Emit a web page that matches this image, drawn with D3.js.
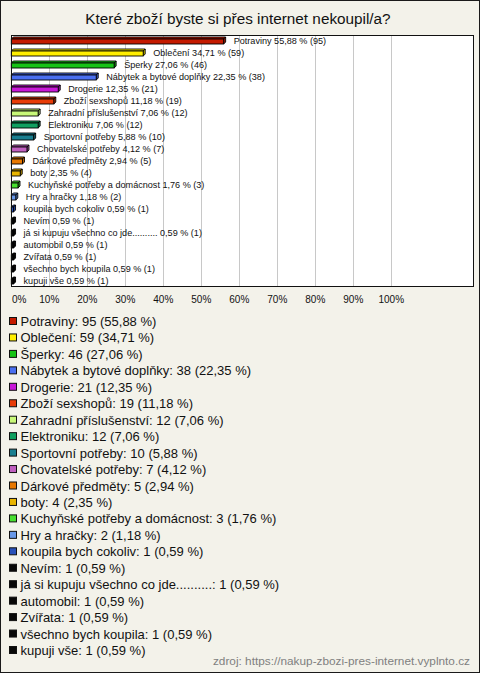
<!DOCTYPE html>
<html><head><meta charset="utf-8">
<script src="https://cdn.jsdelivr.net/npm/d3@7"></script>
<style>body{margin:0;padding:0;background:#fff}svg{display:block}</style>
</head><body>
<script>
const title = "Které zboží byste si přes internet nekoupil/a?";
const categories = ["Potraviny","Oblečení","Šperky","Nábytek a bytové doplňky","Drogerie","Zboží sexshopů","Zahradní příslušenství","Elektroniku","Sportovní potřeby","Chovatelské potřeby","Dárkové předměty","boty","Kuchyňské potřeby a domácnost","Hry a hračky","koupila bych cokoliv","Nevím","já si kupuju všechno co jde..........","automobil","Zvířata","všechno bych koupila","kupuji vše"];
const counts = [95,59,46,38,21,19,12,12,10,7,5,4,3,2,1,1,1,1,1,1,1];
const percents = [55.88,34.71,27.06,22.35,12.35,11.18,7.06,7.06,5.88,4.12,2.94,2.35,1.76,1.18,0.59,0.59,0.59,0.59,0.59,0.59,0.59];
const colors = ["#c41a00","#ffee00","#16c316","#4a6ff0","#c818d8","#e83c08","#c8f878","#10a060","#1a7f90","#c060c0","#e87800","#e8b400","#48e030","#6898e8","#2850b8","#080808","#080808","#080808","#080808","#080808","#080808"];
const ticks = [0,10,20,30,40,50,60,70,80,90,100];
const source = "zdroj: https://nakup-zbozi-pres-internet.vyplnto.cz";

const W = 480, H = 673;
const fmt = v => d3.format(".2f")(v).replace(".", ",");
const svg = d3.select("body").append("svg").attr("width", W).attr("height", H)
  .style("font-family", "Arial, 'Liberation Sans', sans-serif");

svg.append("rect").attr("x",0.5).attr("y",0.5).attr("width",W-1).attr("height",H-1)
  .attr("fill","#f3f2ea").attr("stroke","#1a1a1a");

svg.append("text").attr("x",238).attr("y",24).attr("text-anchor","middle")
  .attr("font-size",15.3).attr("fill","#111").text(title);

const plot = {l:11, r:474, t:35, b:287};
const x = d3.scaleLinear().domain([0,100]).range([11.3, 391.3]);
const y = d3.scaleBand().domain(categories).range([plot.t, plot.b]);

svg.append("rect").attr("x",plot.l+0.5).attr("y",plot.t+0.5)
  .attr("width",plot.r-plot.l-1).attr("height",plot.b-plot.t-1).attr("fill","#fff");

svg.append("g").selectAll("line").data(ticks.slice(1)).join("line")
  .attr("x1",d=>Math.round(x(d))+0.5).attr("x2",d=>Math.round(x(d))+0.5)
  .attr("y1",plot.t).attr("y2",plot.b).attr("stroke","#c8c8c8");

const bars = svg.append("g").selectAll("g").data(categories).join("g");
bars.each(function(c,i){
  const g = d3.select(this);
  const top = y(c);
  const x0 = x(0), x1 = x(percents[i]);
  const fy = top + 4, fh = 5, d = 2;
  g.append("path").attr("d",`M${x0},${fy}L${x0+d},${fy-d}L${x1+d},${fy-d}L${x1},${fy}Z`)
    .attr("fill",colors[i]).attr("stroke","#000").attr("stroke-width",0.9);
  g.append("path").attr("d",`M${x1},${fy}L${x1+d},${fy-d}L${x1+d},${fy-d+fh}L${x1},${fy+fh}Z`)
    .attr("fill",d3.color(colors[i]).darker(0.6)).attr("stroke","#000").attr("stroke-width",0.9);
  g.append("rect").attr("x",x0).attr("y",fy).attr("width",Math.max(0,x1-x0)).attr("height",fh)
    .attr("fill",colors[i]).attr("stroke","#000").attr("stroke-width",0.9);
  g.append("text").attr("x",x1+10).attr("y",top+9).attr("font-size",9.1).attr("fill","#111")
    .text(`${c} ${fmt(percents[i])} % (${counts[i]})`);
});

svg.append("rect").attr("x",plot.l+0.5).attr("y",plot.t+0.5)
  .attr("width",plot.r-plot.l-1).attr("height",plot.b-plot.t-1).attr("fill","none").attr("stroke","#111");

svg.append("g").selectAll("text").data(ticks).join("text")
  .attr("x",d=> d===0 ? 12 : x(d)).attr("y",303)
  .attr("text-anchor",d=> d===0 ? "start" : "middle")
  .attr("font-size",10).attr("fill","#111").text(d=>d+"%");

const ly = d3.scalePoint().domain(categories).range([321, 650]);
const leg = svg.append("g").selectAll("g").data(categories).join("g")
  .attr("transform",c=>`translate(0,${ly(c)})`);
leg.append("rect").attr("x",9.5).attr("y",-3.5).attr("width",7).attr("height",7)
  .attr("fill",(c,i)=>colors[i]).attr("stroke","#111");
leg.append("text").attr("x",20.5).attr("y",5).attr("font-size",13).attr("fill","#111")
  .text((c,i)=>`${c}: ${counts[i]} (${fmt(percents[i])} %)`);

svg.append("text").attr("x",470).attr("y",665).attr("text-anchor","end")
  .attr("font-size",11.8).attr("fill","#808080").text(source);
</script>
</body></html>
